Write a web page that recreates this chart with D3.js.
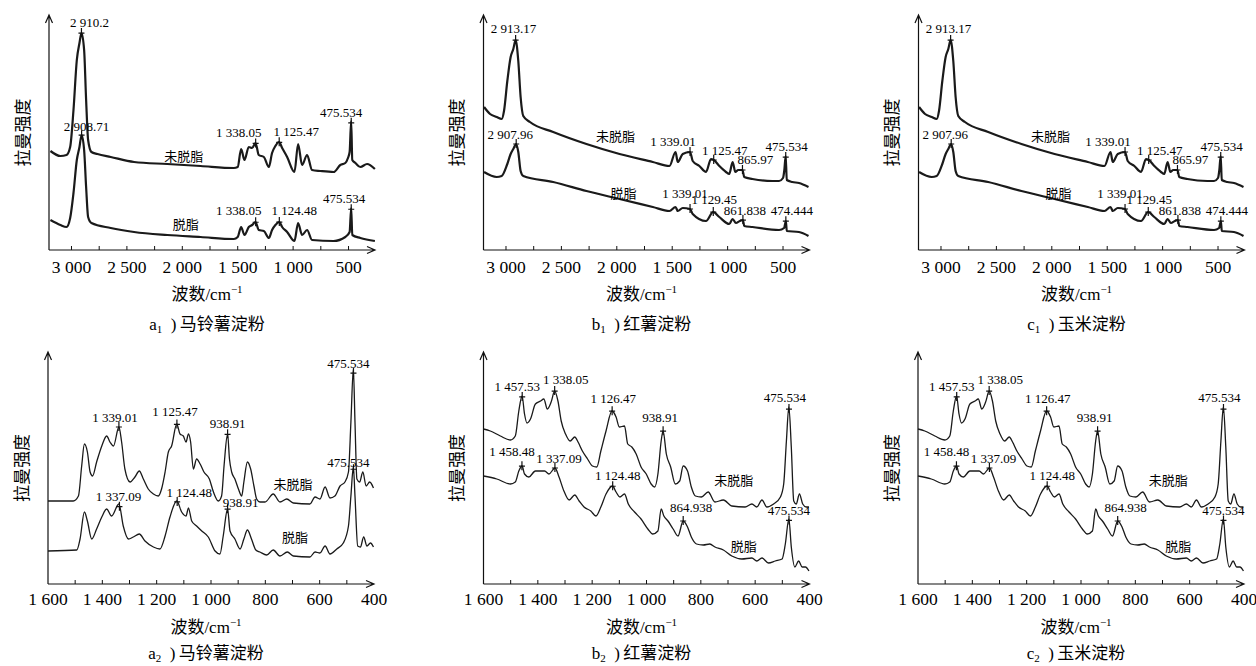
<!DOCTYPE html>
<html>
<head>
<meta charset="utf-8">
<script src="https://cdn.jsdelivr.net/npm/d3@7"></script>
<style>
  body { margin: 0; background: #fff; }
</style>
</head>
<body>
<svg id="fig" width="1256" height="666"></svg>
<script>
// spectra: [wavenumber cm-1, intensity a.u.]
const potatoWideRaw = [[3190,99],[3100,94],[3045,95],[3012,103],[2982,140],[2952,190],[2928,207],[2910,217],[2886,200],[2868,150],[2850,110],[2820,98],[2766,96],[2646,93],[2435,88],[2135,86],[1835,84],[1535,82],[1500,83],[1469,101],[1439,90],[1400,103],[1370,102],[1339,107],[1310,95],[1264,93],[1219,83],[1190,97],[1160,104],[1127,108],[1099,102],[1054,93],[988,78],[955,106],[919,85],[874,95],[829,80],[754,79],[634,78],[574,85],[529,87],[505,92],[490,98],[476,129],[466,90],[438,87],[393,83],[333,86],[262,81]];
const potatoWideDefat = [[3190,30],[3100,25],[3045,23],[3012,32],[2982,57],[2952,90],[2928,103],[2909,115],[2886,100],[2868,63],[2850,33],[2820,27],[2646,22],[2435,18],[2135,15],[1835,13],[1535,11],[1500,13],[1469,23],[1439,15],[1400,23],[1370,25],[1339,28],[1310,20],[1264,19],[1219,12],[1190,20],[1160,25],[1125,28],[1099,23],[1054,18],[988,9],[955,27],[919,15],[874,20],[829,10],[634,9],[529,13],[490,18],[476,42],[466,15],[393,12],[262,9]];
const sweetWideRaw = [[3198,143],[3144,136],[3084,133],[3039,131],[3018,139],[2988,169],[2958,193],[2934,201],[2913,210],[2889,189],[2868,153],[2844,134],[2784,128],[2574,118],[2274,106],[1975,96],[1675,88],[1525,84],[1470,98],[1450,88],[1405,96],[1339,98],[1315,89],[1255,84],[1195,78],[1150,91],[1125,90],[1075,84],[1015,78],[985,76],[955,88],[930,78],[905,80],[866,80],[850,73],[776,71],[596,69],[536,69],[500,72],[488,80],[476,94],[466,70],[416,68],[356,67],[270,63]];
const sweetWideDefat = [[3198,78],[3084,73],[3039,74],[2988,86],[2958,96],[2934,101],[2908,106],[2889,98],[2868,79],[2844,74],[2574,68],[2274,59],[1975,51],[1675,43],[1525,39],[1470,43],[1450,39],[1405,42],[1339,41],[1315,36],[1195,29],[1130,38],[1075,33],[985,26],[955,31],[925,27],[890,29],[862,30],[850,24],[776,23],[536,20],[490,22],[474,29],[466,19],[356,18],[270,14]];
const potatoNarrowRaw = [[1600,83],[1507,83],[1488,88],[1476,118],[1466,140],[1455,132],[1445,112],[1436,108],[1421,122],[1402,138],[1384,148],[1372,142],[1359,138],[1339,157],[1329,142],[1317,115],[1298,102],[1280,107],[1264,113],[1249,105],[1231,95],[1212,90],[1194,88],[1182,95],[1169,112],[1157,132],[1145,138],[1126,160],[1114,150],[1102,148],[1092,142],[1083,150],[1075,142],[1065,115],[1053,125],[1040,120],[1026,112],[1006,105],[991,92],[973,83],[961,88],[952,118],[939,150],[932,125],[924,112],[912,105],[899,95],[887,88],[879,102],[866,122],[854,115],[842,98],[832,85],[820,82],[801,82],[771,90],[746,82],[721,85],[697,81],[636,80],[617,87],[599,85],[580,97],[562,86],[544,88],[525,98],[507,102],[494,112],[485,162],[476,215],[470,162],[463,105],[453,102],[441,112],[429,98],[416,102],[402,96]];
const potatoNarrowDefat = [[1600,33],[1494,34],[1482,45],[1466,72],[1455,63],[1439,45],[1421,55],[1402,67],[1384,75],[1366,68],[1339,80],[1323,58],[1304,45],[1286,47],[1264,50],[1243,43],[1212,37],[1188,35],[1169,48],[1151,67],[1126,83],[1108,72],[1092,68],[1083,76],[1071,63],[1053,58],[1034,53],[1010,47],[985,33],[967,30],[955,48],[939,75],[930,53],[912,45],[893,35],[879,45],[866,54],[851,45],[835,34],[820,32],[795,29],[771,34],[746,28],[719,32],[697,28],[636,27],[617,32],[599,31],[580,38],[562,30],[537,35],[513,41],[494,58],[485,88],[476,117],[470,88],[460,38],[450,37],[438,47],[426,38],[413,41],[402,37]];
const sweetNarrowRaw = [[1600,155],[1575,153],[1538,148],[1501,144],[1483,148],[1470,173],[1458,188],[1449,170],[1440,161],[1427,165],[1409,180],[1390,183],[1378,185],[1365,175],[1351,182],[1338,193],[1326,183],[1314,163],[1298,150],[1281,143],[1264,147],[1252,142],[1236,133],[1217,125],[1199,118],[1183,117],[1168,133],[1149,153],[1127,173],[1112,167],[1100,157],[1081,158],[1069,140],[1054,137],[1038,130],[1020,117],[1001,110],[983,100],[970,97],[958,110],[946,143],[939,153],[927,130],[911,117],[894,100],[878,103],[865,118],[849,113],[835,97],[820,88],[798,87],[773,92],[748,82],[717,84],[686,78],[637,77],[612,80],[594,77],[575,84],[557,77],[532,80],[507,87],[495,100],[485,143],[476,177],[467,137],[458,83],[449,80],[437,90],[425,80],[412,77],[402,77]];
const sweetNarrowDefat = [[1600,108],[1551,105],[1501,100],[1483,102],[1470,113],[1458,118],[1449,110],[1433,107],[1409,113],[1390,113],[1375,113],[1359,110],[1337,116],[1322,107],[1304,93],[1285,84],[1264,89],[1248,83],[1230,77],[1205,73],[1186,68],[1168,77],[1149,90],[1125,98],[1112,92],[1098,87],[1081,90],[1067,80],[1044,72],[1020,65],[995,55],[977,50],[958,53],[946,75],[936,68],[921,63],[902,55],[884,48],[865,63],[849,57],[835,47],[816,40],[791,39],[767,40],[748,37],[717,34],[686,28],[649,25],[612,26],[594,23],[575,26],[551,21],[526,23],[501,25],[489,40],[476,65],[467,37],[454,17],[440,23],[427,17],[415,17],[402,13]];
// corn starch panels show the same traces as sweet potato in the source
const cornWideRaw = sweetWideRaw, cornWideDefat = sweetWideDefat;
const cornNarrowRaw = sweetNarrowRaw, cornNarrowDefat = sweetNarrowDefat;

// marked peaks
const potatoWidePeaksRaw = [2910.2, 1338.05, 1125.47, 475.534];
const potatoWidePeaksDefat = [2908.71, 1338.05, 1124.48, 475.534];
const sweetWidePeaksRaw = [2913.17, 1339.01, 1125.47, 865.97, 475.534];
const sweetWidePeaksDefat = [2907.96, 1339.01, 1129.45, 861.838, 474.444];
const potatoNarrowPeaksRaw = [1339.01, 1125.47, 938.91, 475.534];
const potatoNarrowPeaksDefat = [1337.09, 1124.48, 938.91, 475.534];
const sweetNarrowPeaksRaw = [1457.53, 1338.05, 1126.47, 938.91, 475.534];
const sweetNarrowPeaksDefat = [1458.48, 1337.09, 1124.48, 864.938, 475.534];

const wideTicks = [3000, 2500, 2000, 1500, 1000, 500];
const narrowTicks = [1600, 1400, 1200, 1000, 800, 600, 400];
const seriesNames = ["未脱脂", "脱脂"];
const starchNames = ["马铃薯淀粉", "红薯淀粉", "玉米淀粉"];
const panelLetters = ["a", "b", "c"];

const SERIF = "'Liberation Serif','DejaVu Serif',serif";
const CJK = "'Noto Sans CJK SC','Noto Sans CJK JP',sans-serif";
const loc = d3.formatLocale({decimal: ".", thousands: " ", grouping: [3], currency: ["", ""]});
const fmt = loc.format(",");

const svg = d3.select("#fig");
const W = 326;

const rows = [
  {top: 15, axis: 250, domain: [3203, 261], ticks: wideTicks, minor: d3.range(3000, 260, -250), sub: "1", lw: 2.2, tickDy: 23, titleY: 300, capY: 330},
  {top: 352, axis: 584, domain: [1600, 400], ticks: narrowTicks, minor: d3.range(1500, 450, -100), sub: "2", lw: 1.3, tickDy: 21, titleY: 633, capY: 659}
];

const panels = [
  {row: 0, col: 0, left: 49, raw: potatoWideRaw, defat: potatoWideDefat, pr: potatoWidePeaksRaw, pd: potatoWidePeaksDefat,
   nr: [[8,-6],[-17,-6],[17,-6],[-10,-6]], nd: [[5,-4],[-17,-7],[15,-7],[-7,-6]], nameRaw: [1987,95], nameDefat: [1969,27]},
  {row: 0, col: 1, left: 483.5, raw: sweetWideRaw, defat: sweetWideDefat, pr: sweetWidePeaksRaw, pd: sweetWidePeaksDefat,
   nr: [[-2,-7],[-17,-6],[11,-5],[13,-6],[1,-6]], nd: [[-6,-5],[-5,-11],[1,-8],[2,-5],[6,-6]], nameRaw: [2011,115], nameDefat: [1939,58]},
  {row: 0, col: 2, left: 918.5, raw: cornWideRaw, defat: cornWideDefat, pr: sweetWidePeaksRaw, pd: sweetWidePeaksDefat,
   nr: [[-2,-7],[-17,-6],[11,-5],[13,-6],[1,-6]], nd: [[-6,-5],[-5,-11],[1,-8],[2,-5],[6,-6]], nameRaw: [2011,115], nameDefat: [1939,58]},
  {row: 1, col: 0, left: 48, raw: potatoNarrowRaw, defat: potatoNarrowDefat, pr: potatoNarrowPeaksRaw, pd: potatoNarrowPeaksDefat,
   nr: [[-4,-5],[-2,-8],[0,-6],[-5,-5]], nd: [[-1,-6],[12,-5],[13,-2],[-5,-2]], nameRaw: [698,101], nameDefat: [691,48]},
  {row: 1, col: 1, left: 483.5, raw: sweetNarrowRaw, defat: sweetNarrowDefat, pr: sweetNarrowPeaksRaw, pd: sweetNarrowPeaksDefat,
   nr: [[-5,-6],[11,-7],[1,-8],[-3,-9],[-4,-7]], nd: [[-10,-10],[4,-5],[5,-6],[8,-9],[0,-5]], nameRaw: [679,105], nameDefat: [642,39]},
  {row: 1, col: 2, left: 918, raw: cornNarrowRaw, defat: cornNarrowDefat, pr: sweetNarrowPeaksRaw, pd: sweetNarrowPeaksDefat,
   nr: [[-5,-6],[11,-7],[1,-8],[-3,-9],[-4,-7]], nd: [[-10,-10],[4,-5],[5,-6],[8,-9],[0,-5]], nameRaw: [679,105], nameDefat: [642,39]}
];

function valueAt(series, wn) {
  for (let i = 0; i < series.length - 1; i++) {
    const a = series[i], b = series[i + 1];
    if (wn <= a[0] && wn >= b[0]) {
      const t = (a[0] - wn) / (a[0] - b[0]);
      return a[1] + t * (b[1] - a[1]);
    }
  }
  return series[series.length - 1][1];
}

panels.forEach(p => {
  const r = rows[p.row];
  const x = d3.scaleLinear().domain(r.domain).range([p.left, p.left + W]);
  const y = d3.scaleLinear().domain([0, r.axis - r.top]).range([r.axis, r.top]);
  const g = svg.append("g");

  // axes with arrow heads
  g.append("path")
    .attr("d", `M${p.left},${r.axis}V${r.top}M${p.left - 3.5},${r.top + 8}L${p.left},${r.top}L${p.left + 3.5},${r.top + 8}`)
    .attr("fill", "none").attr("stroke", "#111").attr("stroke-width", 1.2);
  g.append("path")
    .attr("d", `M${p.left},${r.axis}H${p.left + W}M${p.left + W - 8},${r.axis - 3.5}L${p.left + W},${r.axis}L${p.left + W - 8},${r.axis + 3.5}`)
    .attr("fill", "none").attr("stroke", "#111").attr("stroke-width", 1.2);

  g.selectAll(".tk").data(r.minor).enter().append("line")
    .attr("x1", d => x(d)).attr("x2", d => x(d))
    .attr("y1", r.axis).attr("y2", r.axis - 4)
    .attr("stroke", "#111").attr("stroke-width", 1);

  g.selectAll(".tl").data(r.ticks).enter().append("text")
    .attr("x", d => x(d)).attr("y", r.axis + r.tickDy)
    .attr("text-anchor", "middle")
    .attr("font-family", SERIF).attr("font-size", 17.5)
    .text(d => fmt(d));

  // axis titles
  const cx = p.left + 158;
  const xt = g.append("text").attr("x", cx).attr("y", r.titleY).attr("text-anchor", "middle").attr("font-size", 17);
  xt.append("tspan").attr("font-family", CJK).text("波数");
  xt.append("tspan").attr("font-family", SERIF).text("/cm");
  xt.append("tspan").attr("font-family", SERIF).attr("font-size", 11).attr("dy", -7).text("−1");

  g.append("text")
    .attr("transform", `translate(${p.left - 28},${(r.top + r.axis) / 2}) rotate(-90)`)
    .attr("text-anchor", "middle").attr("dominant-baseline", "central")
    .attr("font-family", CJK).attr("font-size", 17)
    .text("拉曼强度");

  const cap = g.append("text").attr("x", cx).attr("y", r.capY).attr("text-anchor", "middle").attr("font-size", 17);
  cap.append("tspan").attr("font-family", SERIF).text(panelLetters[p.col]);
  cap.append("tspan").attr("font-family", SERIF).attr("font-size", 11).attr("dy", 3).text(r.sub);
  cap.append("tspan").attr("font-family", SERIF).attr("dy", -3).text("\u2002)\u2009");
  cap.append("tspan").attr("font-family", CJK).text(starchNames[p.col]);

  // traces
  const line = d3.line().x(d => x(d[0])).y(d => y(d[1])).curve(d3.curveMonotoneX);
  [p.raw, p.defat].forEach(s => {
    g.append("path").datum(s).attr("d", line)
      .attr("fill", "none").attr("stroke", "#1a1a1a")
      .attr("stroke-width", r.lw).attr("stroke-linejoin", "round");
  });

  // series names
  [[p.nameRaw, seriesNames[0]], [p.nameDefat, seriesNames[1]]].forEach(([pos, name]) => {
    g.append("text").attr("x", x(pos[0])).attr("y", y(pos[1]))
      .attr("text-anchor", "middle").attr("dominant-baseline", "central")
      .attr("font-family", CJK).attr("font-size", 13).text(name);
  });

  // peak markers and labels
  [[p.raw, p.pr, p.nr], [p.defat, p.pd, p.nd]].forEach(([s, peaks, nudges]) => {
    peaks.forEach((wn, i) => {
      const mx = x(wn), my = y(valueAt(s, wn));
      g.append("path").attr("d", `M${mx},${my - 5}V${my + 4}M${mx - 3},${my}H${mx + 3}`)
        .attr("stroke", "#111").attr("stroke-width", 1.2);
      g.append("text").attr("x", mx + nudges[i][0]).attr("y", my + nudges[i][1])
        .attr("text-anchor", "middle").attr("font-family", SERIF).attr("font-size", 13)
        .text(fmt(wn));
    });
  });
});
</script>
</body>
</html>
